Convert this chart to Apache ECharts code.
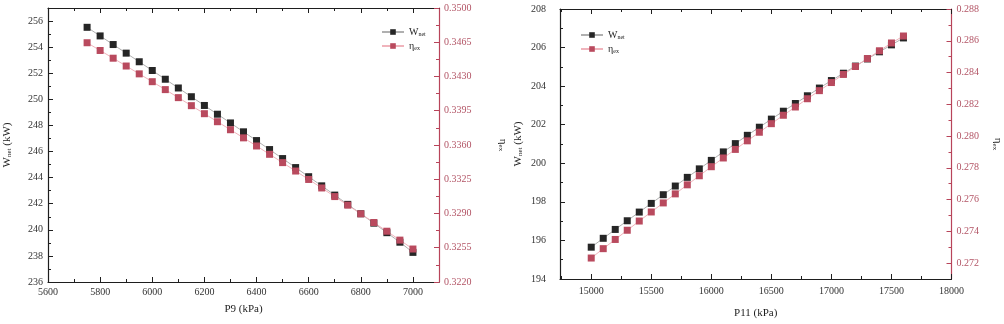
<!DOCTYPE html>
<html>
<head>
  <meta charset="UTF-8" />
  <title>Wnet / eta_ex vs P9, P11</title>
  <style type="text/css">
    * { margin: 0; padding: 0; }
    #main { width: 1004px; height: 324px; background: #fff; }
  </style>
</head>
<body>
  <div id="main"></div>
</body>
<script src="https://cdn.jsdelivr.net/npm/echarts@6/dist/echarts.min.js"></script>
<script type="text/javascript">
  // left panel: sweep of P9
  const p9 = [5750, 5800, 5850, 5900, 5950, 6000, 6050, 6100, 6150, 6200, 6250, 6300, 6350,
    6400, 6450, 6500, 6550, 6600, 6650, 6700, 6750, 6800, 6850, 6900, 6950, 7000]
  const wNetP9 = [255.52, 254.86, 254.20, 253.54, 252.88, 252.21, 251.54, 250.87, 250.20, 249.53,
    248.86, 248.19, 247.51, 246.84, 246.15, 245.46, 244.77, 244.07, 243.37, 242.66, 241.95,
    241.23, 240.51, 239.78, 239.05, 238.27]
  const etaP9 = [0.34645, 0.34566, 0.34487, 0.34407, 0.34327, 0.34247, 0.34166, 0.34084, 0.34002,
    0.33920, 0.33838, 0.33756, 0.33673, 0.33590, 0.33505, 0.33420, 0.33334, 0.33248, 0.33161,
    0.33073, 0.32985, 0.32897, 0.32808, 0.32719, 0.32628, 0.32537]
  const p9Ticks = [5600, 5800, 6000, 6200, 6400, 6600, 6800, 7000]
  const wNetP9Ticks = [236, 238, 240, 242, 244, 246, 248, 250, 252, 254, 256]
  const etaP9Ticks = [0.3220, 0.3255, 0.3290, 0.3325, 0.3360, 0.3395, 0.3430, 0.3465, 0.3500]

  // right panel: sweep of P11
  const p11 = [15000, 15100, 15200, 15300, 15400, 15500, 15600, 15700, 15800, 15900, 16000,
    16100, 16200, 16300, 16400, 16500, 16600, 16700, 16800, 16900, 17000, 17100, 17200,
    17300, 17400, 17500, 17600]
  const wNetP11 = [195.65, 196.11, 196.57, 197.02, 197.47, 197.92, 198.37, 198.82, 199.27, 199.71,
    200.15, 200.59, 201.02, 201.45, 201.87, 202.29, 202.70, 203.10, 203.50, 203.90, 204.29,
    204.67, 205.04, 205.41, 205.78, 206.14, 206.50]
  const etaP11 = [0.27232, 0.27291, 0.27349, 0.27407, 0.27465, 0.27522, 0.27579, 0.27636, 0.27693,
    0.27750, 0.27807, 0.27862, 0.27916, 0.27970, 0.28024, 0.28078, 0.28131, 0.28183, 0.28235,
    0.28286, 0.28337, 0.28388, 0.28438, 0.28488, 0.28537, 0.28586, 0.28630]
  const p11Ticks = [15000, 15500, 16000, 16500, 17000, 17500, 18000]
  const wNetP11Ticks = [194, 196, 198, 200, 202, 204, 206, 208]
  const etaP11Ticks = [0.272, 0.274, 0.276, 0.278, 0.280, 0.282, 0.284, 0.286, 0.288]

  const FONT = 'Liberation Serif'
  const BLACK = '#1e1e1e'
  const RED = '#b8445a'
  const W_COLOR = '#262626'
  const ETA_COLOR = '#b94a5e'

  // minor ticks half way between the major ones
  function minorOf(ticks, min, max) {
    const step = ticks[1] - ticks[0]
    const out = []
    for (let i = -1; i < ticks.length; i++) {
      const v = +(ticks[0] + step * (i + 0.5)).toFixed(6)
      if (v > min && v < max) out.push(v)
    }
    return out
  }

  const pairs = (xs, ys) => xs.map((x, i) => [x, ys[i]])
  const plain = v => String(v)

  const rich = {
    a: { fontFamily: FONT, fontSize: 11, color: BLACK },
    s: { fontFamily: FONT, fontSize: 7, color: BLACK, padding: [5, 0, 0, 0] }
  }

  // one x axis (major or minor ticks, bottom or top)
  function xAx(grid, min, max, ticks, o) {
    return {
      type: 'value', gridIndex: grid, min: min, max: max,
      position: o.top ? 'top' : 'bottom',
      name: o.name || '', nameLocation: 'middle', nameGap: o.nameGap || 20,
      nameTextStyle: { fontFamily: FONT, fontSize: 11, color: BLACK },
      axisLine: { show: !o.minor, lineStyle: { color: BLACK, width: 1.2 } },
      axisTick: { show: true, inside: true, length: o.minor ? 3 : 5, customValues: ticks,
        lineStyle: { color: BLACK, width: 1 } },
      axisLabel: { show: !!o.labels, customValues: ticks, margin: o.margin || 5,
        fontFamily: FONT, fontSize: 10, color: '#333', formatter: plain },
      splitLine: { show: false }
    }
  }

  function yAx(grid, min, max, ticks, o) {
    const color = o.right ? RED : BLACK
    return {
      type: 'value', gridIndex: grid, min: min, max: max,
      position: o.right ? 'right' : 'left',
      name: o.name || '', nameLocation: 'middle', nameGap: o.nameGap || 30,
      nameRotate: o.right ? -90 : 90,
      nameTextStyle: { fontFamily: FONT, fontSize: 11, color: BLACK, rich: rich },
      axisLine: { show: !o.minor, lineStyle: { color: color, width: 1.2 } },
      axisTick: { show: true, inside: true, length: o.minor ? 3 : 5, customValues: ticks,
        lineStyle: { color: color, width: 1 } },
      axisLabel: { show: !!o.labels, customValues: ticks, margin: o.margin || 5,
        fontFamily: FONT, fontSize: 10, color: o.right ? '#b35566' : '#333',
        formatter: o.fmt || plain },
      splitLine: { show: false }
    }
  }

  const L = { xMin: 5600, xMax: 7100, yMin: 236, yMax: 257, eMin: 0.322, eMax: 0.350 }
  const R = { xMin: 14740, xMax: 18000, yMin: 194, yMax: 208, eMin: 0.271, eMax: 0.288 }

  const wName = '{a|W}{s|net}{a| (kW)}'
  const etaName = '{a|η}{s|ex}'

  const xAxes = [
    xAx(0, L.xMin, L.xMax, p9Ticks, { labels: true, name: 'P9 (kPa)', nameGap: 22, margin: 5 }),
    xAx(0, L.xMin, L.xMax, p9Ticks, { top: true }),
    xAx(0, L.xMin, L.xMax, minorOf(p9Ticks, L.xMin, L.xMax), { minor: true }),
    xAx(0, L.xMin, L.xMax, minorOf(p9Ticks, L.xMin, L.xMax), { minor: true, top: true }),
    xAx(1, R.xMin, R.xMax, p11Ticks, { labels: true, name: 'P11 (kPa)', nameGap: 29, margin: 7 }),
    xAx(1, R.xMin, R.xMax, p11Ticks, { top: true }),
    xAx(1, R.xMin, R.xMax, minorOf(p11Ticks, R.xMin, R.xMax), { minor: true }),
    xAx(1, R.xMin, R.xMax, minorOf(p11Ticks, R.xMin, R.xMax), { minor: true, top: true })
  ]

  const yAxes = [
    yAx(0, L.yMin, L.yMax, wNetP9Ticks, { labels: true, name: wName, nameGap: 35, margin: 5 }),
    yAx(0, L.yMin, L.yMax, minorOf(wNetP9Ticks, L.yMin, L.yMax), { minor: true }),
    yAx(0, L.eMin, L.eMax, etaP9Ticks, { right: true, labels: true, name: etaName, nameGap: 58,
      margin: 5, fmt: v => v.toFixed(4) }),
    yAx(0, L.eMin, L.eMax, minorOf(etaP9Ticks, L.eMin, L.eMax), { right: true, minor: true }),
    yAx(1, R.yMin, R.yMax, wNetP11Ticks, { labels: true, name: wName, nameGap: 36, margin: 14 }),
    yAx(1, R.yMin, R.yMax, minorOf(wNetP11Ticks, R.yMin, R.yMax), { minor: true }),
    yAx(1, R.eMin, R.eMax, etaP11Ticks, { right: true, labels: true, name: etaName, nameGap: 40,
      margin: 5, fmt: v => v.toFixed(3) }),
    yAx(1, R.eMin, R.eMax, minorOf(etaP11Ticks, R.eMin, R.eMax), { right: true, minor: true })
  ]

  function line(name, data, xi, yi, color, lineColor) {
    return {
      name: name, type: 'line', xAxisIndex: xi, yAxisIndex: yi, data: data,
      symbol: 'rect', symbolSize: 7, showSymbol: true,
      itemStyle: { color: color },
      lineStyle: { color: lineColor, width: 1 },
      emphasis: { disabled: true },
      animation: false
    }
  }

  const legendFmt = n => n === 'Wnet' ? '{a|W}{s|net}' : '{a|η}{s|ex}'
  const legendRich = {
    a: { fontFamily: FONT, fontSize: 10, color: BLACK },
    s: { fontFamily: FONT, fontSize: 6, color: BLACK, padding: [4, 0, 0, 0] }
  }

  const myChart = echarts.init(document.getElementById('main'))
  myChart.setOption({
    backgroundColor: '#fff',
    animation: false,
    grid: [
      { left: 48, right: 565, top: 8, bottom: 42 },
      { left: 560, right: 52, top: 9, bottom: 41 }
    ],
    legend: [
      { left: 376, top: 22, orient: 'vertical', itemGap: 4, itemWidth: 22, itemHeight: 7,
        data: ['Wnet', 'ηex'], formatter: legendFmt, textStyle: { rich: legendRich } },
      { left: 575, top: 25, orient: 'vertical', itemGap: 4, itemWidth: 22, itemHeight: 7,
        data: ['Wnet', 'ηex'], formatter: legendFmt, textStyle: { rich: legendRich } }
    ],
    xAxis: xAxes,
    yAxis: yAxes,
    series: [
      line('Wnet', pairs(p9, wNetP9), 0, 0, W_COLOR, '#b0b0b0'),
      line('ηex', pairs(p9, etaP9), 0, 2, ETA_COLOR, '#f0b4bc'),
      line('Wnet', pairs(p11, wNetP11), 4, 4, W_COLOR, '#b0b0b0'),
      line('ηex', pairs(p11, etaP11), 4, 6, ETA_COLOR, '#f0b4bc')
    ]
  })
</script>
</html>
